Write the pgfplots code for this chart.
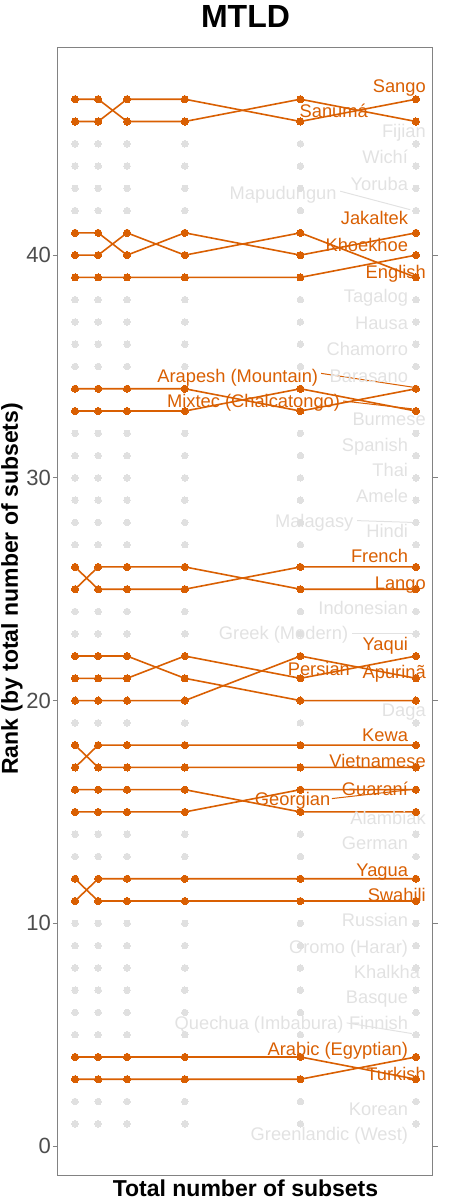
\documentclass[border=0pt]{standalone}
\usepackage{fontspec}
\setmainfont{Liberation Sans}
\usepackage{pgfplots}
\pgfplotsset{compat=1.18}
\usetikzlibrary{calc}
\definecolor{orng}{RGB}{217,95,2}
\definecolor{dotgrey}{RGB}{224,224,224}
\definecolor{labgrey}{RGB}{226,226,226}
\definecolor{tickgrey}{RGB}{77,77,77}
\definecolor{framegrey}{RGB}{130,130,130}
\tikzset{
  gl/.style={font=\fontsize{18.3}{18.3}\selectfont, text=labgrey, anchor=base east, inner sep=0pt},
  ol/.style={font=\fontsize{18.3}{18.3}\selectfont, text=orng, anchor=base east, inner sep=0pt},
}
\pgfplotsset{hl/.style={orng, line width=1.6pt, mark=*, mark size=3.6pt, mark options={solid, fill=orng, line width=0pt}}}
\begin{document}
\begin{tikzpicture}
\begin{axis}[
  scale only axis, width=375pt, height=1127pt,
  xmin=-1.95, xmax=62.95, ymin=-1.3, ymax=49.3,
  xtick=\empty, ytick={0,10,20,30,40},
  tick align=outside, major tick length=5pt,
  every tick/.style={framegrey, line width=0.8pt},
  axis line style={framegrey, line width=1pt},
  /pgf/number format/assume math mode=true,
  yticklabel style={font=\fontsize{22}{22}\selectfont, color=tickgrey, inner sep=2pt},
  title={MTLD},
  title style={font=\bfseries\fontsize{32}{32}\selectfont, at={(axis description cs:0.5,1.0128)}, anchor=base, inner sep=0pt},
  xlabel={Total number of subsets},
  xlabel style={font=\bfseries\fontsize{23}{23}\selectfont, at={(axis description cs:0.5,-0.0193)}, anchor=base, inner sep=0pt},
  ylabel={Rank (by total number of subsets)},
  ylabel style={font=\bfseries\fontsize{23}{23}\selectfont, at={(axis description cs:-0.107,0.52)}, anchor=base, inner sep=0pt},
  clip=false,
]
% grey dots: every rank at every subset count
\addplot[only marks, mark=*, mark size=3.3pt, color=dotgrey, mark options={line width=0pt}] coordinates {
(1,1)(5,1)(10,1)(20,1)(40,1)(60,1)
(1,2)(5,2)(10,2)(20,2)(40,2)(60,2)
(1,3)(5,3)(10,3)(20,3)(40,3)(60,3)
(1,4)(5,4)(10,4)(20,4)(40,4)(60,4)
(1,5)(5,5)(10,5)(20,5)(40,5)(60,5)
(1,6)(5,6)(10,6)(20,6)(40,6)(60,6)
(1,7)(5,7)(10,7)(20,7)(40,7)(60,7)
(1,8)(5,8)(10,8)(20,8)(40,8)(60,8)
(1,9)(5,9)(10,9)(20,9)(40,9)(60,9)
(1,10)(5,10)(10,10)(20,10)(40,10)(60,10)
(1,11)(5,11)(10,11)(20,11)(40,11)(60,11)
(1,12)(5,12)(10,12)(20,12)(40,12)(60,12)
(1,13)(5,13)(10,13)(20,13)(40,13)(60,13)
(1,14)(5,14)(10,14)(20,14)(40,14)(60,14)
(1,15)(5,15)(10,15)(20,15)(40,15)(60,15)
(1,16)(5,16)(10,16)(20,16)(40,16)(60,16)
(1,17)(5,17)(10,17)(20,17)(40,17)(60,17)
(1,18)(5,18)(10,18)(20,18)(40,18)(60,18)
(1,19)(5,19)(10,19)(20,19)(40,19)(60,19)
(1,20)(5,20)(10,20)(20,20)(40,20)(60,20)
(1,21)(5,21)(10,21)(20,21)(40,21)(60,21)
(1,22)(5,22)(10,22)(20,22)(40,22)(60,22)
(1,23)(5,23)(10,23)(20,23)(40,23)(60,23)
(1,24)(5,24)(10,24)(20,24)(40,24)(60,24)
(1,25)(5,25)(10,25)(20,25)(40,25)(60,25)
(1,26)(5,26)(10,26)(20,26)(40,26)(60,26)
(1,27)(5,27)(10,27)(20,27)(40,27)(60,27)
(1,28)(5,28)(10,28)(20,28)(40,28)(60,28)
(1,29)(5,29)(10,29)(20,29)(40,29)(60,29)
(1,30)(5,30)(10,30)(20,30)(40,30)(60,30)
(1,31)(5,31)(10,31)(20,31)(40,31)(60,31)
(1,32)(5,32)(10,32)(20,32)(40,32)(60,32)
(1,33)(5,33)(10,33)(20,33)(40,33)(60,33)
(1,34)(5,34)(10,34)(20,34)(40,34)(60,34)
(1,35)(5,35)(10,35)(20,35)(40,35)(60,35)
(1,36)(5,36)(10,36)(20,36)(40,36)(60,36)
(1,37)(5,37)(10,37)(20,37)(40,37)(60,37)
(1,38)(5,38)(10,38)(20,38)(40,38)(60,38)
(1,39)(5,39)(10,39)(20,39)(40,39)(60,39)
(1,40)(5,40)(10,40)(20,40)(40,40)(60,40)
(1,41)(5,41)(10,41)(20,41)(40,41)(60,41)
(1,42)(5,42)(10,42)(20,42)(40,42)(60,42)
(1,43)(5,43)(10,43)(20,43)(40,43)(60,43)
(1,44)(5,44)(10,44)(20,44)(40,44)(60,44)
(1,45)(5,45)(10,45)(20,45)(40,45)(60,45)
(1,46)(5,46)(10,46)(20,46)(40,46)(60,46)
(1,47)(5,47)(10,47)(20,47)(40,47)(60,47)
};
% label segments (grey)
\addplot[labgrey, line width=1pt, no marks] coordinates {(46.9,42.87)(59.0,42.04)};
\addplot[labgrey, line width=1pt, no marks] coordinates {(49.8,28.08)(59.3,28.0)};
\addplot[labgrey, line width=1pt, no marks] coordinates {(48.9,23.03)(59.3,23.03)};
\addplot[labgrey, line width=1pt, no marks] coordinates {(48.0,5.53)(59.3,5.05)};
% highlighted languages
\addplot[hl] coordinates {(1,46)(5,46)(10,47)(20,47)(40,46)(60,47)}; % Sango
\addplot[hl] coordinates {(1,47)(5,47)(10,46)(20,46)(40,47)(60,46)}; % Sanuma
\addplot[hl] coordinates {(1,41)(5,41)(10,40)(20,41)(40,40)(60,41)}; % Jakaltek
\addplot[hl] coordinates {(1,39)(5,39)(10,39)(20,39)(40,39)(60,40)}; % Khoekhoe
\addplot[hl] coordinates {(1,40)(5,40)(10,41)(20,40)(40,41)(60,39)}; % English
\addplot[hl] coordinates {(1,34)(5,34)(10,34)(20,34)(40,33)(60,34)}; % Arapesh
\addplot[hl] coordinates {(1,33)(5,33)(10,33)(20,33)(40,34)(60,33)}; % Mixtec
\addplot[hl] coordinates {(1,26)(5,25)(10,25)(20,25)(40,26)(60,26)}; % French
\addplot[hl] coordinates {(1,25)(5,26)(10,26)(20,26)(40,25)(60,25)}; % Lango
\addplot[hl] coordinates {(1,21)(5,21)(10,21)(20,22)(40,21)(60,22)}; % Yaqui
\addplot[hl] coordinates {(1,20)(5,20)(10,20)(20,20)(40,22)(60,21)}; % Persian
\addplot[hl] coordinates {(1,22)(5,22)(10,22)(20,21)(40,20)(60,20)}; % Apurina
\addplot[hl] coordinates {(1,17)(5,18)(10,18)(20,18)(40,18)(60,18)}; % Kewa
\addplot[hl] coordinates {(1,18)(5,17)(10,17)(20,17)(40,17)(60,17)}; % Vietnamese
\addplot[hl] coordinates {(1,15)(5,15)(10,15)(20,15)(40,16)(60,16)}; % Georgian
\addplot[hl] coordinates {(1,16)(5,16)(10,16)(20,16)(40,15)(60,15)}; % Guarani
\addplot[hl] coordinates {(1,11)(5,12)(10,12)(20,12)(40,12)(60,12)}; % Yagua
\addplot[hl] coordinates {(1,12)(5,11)(10,11)(20,11)(40,11)(60,11)}; % Swahili
\addplot[hl] coordinates {(1,3)(5,3)(10,3)(20,3)(40,3)(60,4)}; % Arabic
\addplot[hl] coordinates {(1,4)(5,4)(10,4)(20,4)(40,4)(60,3)}; % Turkish
% orange label segments
\addplot[orng, line width=1pt, no marks] coordinates {(43.6,34.69)(60,34.05)};
\addplot[orng, line width=1pt, no marks] coordinates {(47.4,33.45)(59.3,33.1)};
\addplot[orng, line width=1pt, no marks] coordinates {(45.45,15.6)(59.0,16.0)};
% labels
\node[ol] at (axis cs:61.73,47.3) {Sango};
\node[ol] at (axis cs:51.7,46.2) {Sanumá};
\node[gl] at (axis cs:61.73,45.3) {Fijian};
\node[gl] at (axis cs:58.66,44.1) {Wichí};
\node[gl] at (axis cs:58.66,42.9) {Yoruba};
\node[gl] at (axis cs:46.3,42.5) {Mapudungun};
\node[ol] at (axis cs:58.66,41.36) {Jakaltek};
\node[ol] at (axis cs:58.66,40.16) {Khoekhoe};
\node[ol] at (axis cs:61.73,38.97) {English};
\node[gl] at (axis cs:58.66,37.87) {Tagalog};
\node[gl] at (axis cs:58.66,36.67) {Hausa};
\node[gl] at (axis cs:58.66,35.48) {Chamorro};
\node[gl] at (axis cs:58.66,34.3) {Barasano};
\node[ol] at (axis cs:43.1,34.3) {Arapesh (Mountain)};
\node[ol] at (axis cs:46.9,33.15) {Mixtec (Chalcatongo)};
\node[gl] at (axis cs:61.73,32.34) {Burmese};
\node[gl] at (axis cs:58.66,31.2) {Spanish};
\node[gl] at (axis cs:58.66,30.04) {Thai};
\node[gl] at (axis cs:58.66,28.9) {Amele};
\node[gl] at (axis cs:49.2,27.75) {Malagasy};
\node[gl] at (axis cs:58.66,27.3) {Hindi};
\node[ol] at (axis cs:58.66,26.19) {French};
\node[ol] at (axis cs:61.73,24.98) {Lango};
\node[gl] at (axis cs:58.66,23.87) {Indonesian};
\node[gl] at (axis cs:48.3,22.73) {Greek (Modern)};
\node[ol] at (axis cs:58.66,22.25) {Yaqui};
\node[ol] at (axis cs:48.6,21.12) {Persian};
\node[ol] at (axis cs:61.73,20.97) {Apurinã};
\node[gl] at (axis cs:61.73,19.29) {Daga};
\node[ol] at (axis cs:58.66,18.17) {Kewa};
\node[ol] at (axis cs:61.73,17.0) {Vietnamese};
\node[ol] at (axis cs:58.66,15.75) {Guaraní};
\node[ol] at (axis cs:45.2,15.27) {Georgian};
\node[gl] at (axis cs:61.73,14.45) {Alambiak};
\node[gl] at (axis cs:58.66,13.3) {German};
\node[ol] at (axis cs:58.66,12.12) {Yagua};
\node[ol] at (axis cs:61.73,11.0) {Swahili};
\node[gl] at (axis cs:58.66,9.84) {Russian};
\node[gl] at (axis cs:58.66,8.65) {Oromo (Harar)};
\node[gl] at (axis cs:60.74,7.5) {Khalkha};
\node[gl] at (axis cs:58.66,6.4) {Basque};
\node[gl] at (axis cs:47.5,5.23) {Quechua (Imbabura)};
\node[gl] at (axis cs:58.66,5.23) {Finnish};
\node[ol] at (axis cs:58.66,4.06) {Arabic (Egyptian)};
\node[ol] at (axis cs:61.73,2.95) {Turkish};
\node[gl] at (axis cs:58.66,1.36) {Korean};
\node[gl] at (axis cs:58.66,0.25) {Greenlandic (West)};
\end{axis}
\pgfresetboundingbox
\path[use as bounding box] ($(current axis.south west)+(-58pt,-28pt)$) rectangle ($(current axis.north east)+(16pt,48pt)$);
\end{tikzpicture}
\end{document}
